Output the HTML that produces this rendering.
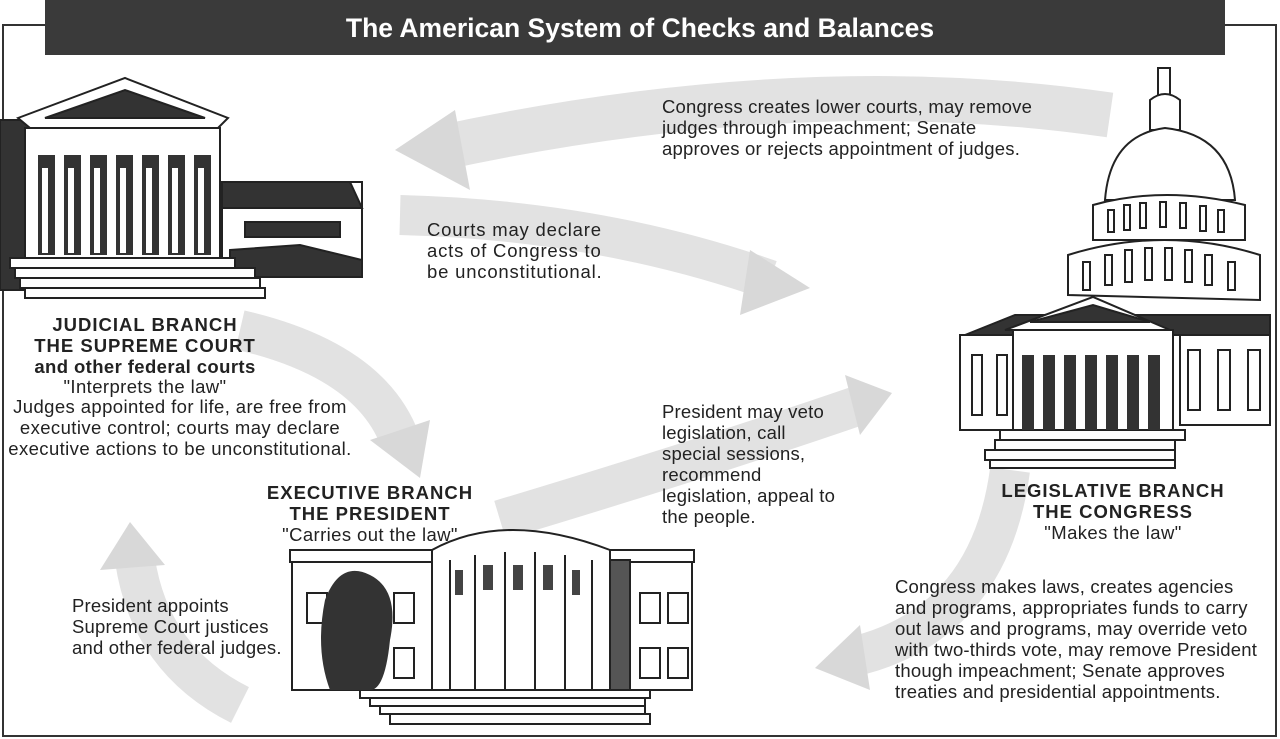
<!DOCTYPE html>
<html><head><meta charset="utf-8"><style>
html,body{margin:0;padding:0;background:#fff;}
svg{display:block;}
text{font-family:"Liberation Sans",Arial,sans-serif;fill:#222;}
</style></head><body>
<svg width="1280" height="739" viewBox="0 0 1280 739" xmlns="http://www.w3.org/2000/svg">
<rect width="1280" height="739" fill="#fff"/>
<path d="M45 25 H3 V736 H1276 V25 H1225" fill="none" stroke="#333" stroke-width="2"/>
<rect x="45" y="0" width="1180" height="55" fill="#3a3a3a"/>
<text x="640" y="37" font-size="26.5" font-weight="bold" text-anchor="middle" style="fill:#fff">The American System of Checks and Balances</text>

<g fill="none" stroke="#e2e2e2" stroke-linecap="butt">
 <path d="M1110 115 Q800 70 440 148" stroke-width="45"/>
 <path d="M400 215 Q600 220 770 280" stroke-width="40"/>
 <path d="M240 330 Q370 360 400 440" stroke-width="40"/>
 <path d="M500 520 Q700 460 860 405" stroke-width="40"/>
 <path d="M1010 470 Q990 620 860 655" stroke-width="40"/>
 <path d="M240 705 Q150 660 135 560" stroke-width="40"/>
</g>
<g fill="#d8d8d8">
 <polygon points="395,150 455,110 470,190"/>
 <polygon points="810,288 750,250 740,315"/>
 <polygon points="420,478 370,440 430,420"/>
 <polygon points="892,393 845,375 860,435"/>
 <polygon points="815,668 860,625 870,690"/>
 <polygon points="130,522 100,570 165,565"/>
</g>

<g stroke="#222" stroke-width="2">
 <rect x="222" y="182" width="140" height="95" fill="#fff"/>
 <polygon points="222,182 350,182 362,208 222,208" fill="#333"/>
 <rect x="245" y="222" width="95" height="15" fill="#333"/>
 <path d="M230 250 L300 245 L362 260 V277 H230Z" fill="#333"/>
 <rect x="0" y="120" width="30" height="170" fill="#333"/>
 <polygon points="18,118 125,78 228,118 218,128 30,128" fill="#fff"/>
 <polygon points="45,118 125,90 205,118" fill="#333"/>
 <rect x="25" y="128" width="195" height="130" fill="#fff"/>
 <rect x="10" y="258" width="225" height="10" fill="#fff"/>
 <rect x="15" y="268" width="240" height="10" fill="#fff"/>
 <rect x="20" y="278" width="240" height="10" fill="#fff"/>
 <rect x="25" y="288" width="240" height="10" fill="#fff"/>
</g>
<g fill="#333">
 <rect x="38" y="155" width="17" height="100"/><rect x="64" y="155" width="17" height="100"/><rect x="90" y="155" width="17" height="100"/><rect x="116" y="155" width="17" height="100"/><rect x="142" y="155" width="17" height="100"/><rect x="168" y="155" width="17" height="100"/><rect x="194" y="155" width="17" height="100"/>
</g>
<g fill="#fff"><rect x="42" y="168" width="6" height="85"/><rect x="68" y="168" width="6" height="85"/><rect x="94" y="168" width="6" height="85"/><rect x="120" y="168" width="6" height="85"/><rect x="146" y="168" width="6" height="85"/><rect x="172" y="168" width="6" height="85"/><rect x="198" y="168" width="6" height="85"/></g>

<g stroke="#222" stroke-width="2" fill="#fff">
 <rect x="1158" y="68" width="12" height="30"/>
 <path d="M1150 130 V100 Q1165 88 1180 100 V130Z"/>
 <path d="M1105 200 Q1110 135 1165 128 Q1230 135 1235 200Z"/>
 <path d="M1093 240 V205 Q1165 185 1245 205 V240Z"/>
 <path d="M1068 295 V255 Q1165 225 1260 255 V300Z"/>
 <polygon points="965,335 1015,315 1270,315 1270,335" fill="#333"/>
 <rect x="960" y="335" width="60" height="95"/>
 <rect x="1180" y="335" width="90" height="90"/>
 <polygon points="1005,330 1093,297 1170,330" fill="#fff"/>
 <polygon points="1030,322 1093,305 1150,322" fill="#333"/>
 <rect x="1013" y="330" width="160" height="100"/>
 <rect x="1000" y="430" width="185" height="10"/>
 <rect x="995" y="440" width="180" height="10"/>
 <rect x="985" y="450" width="190" height="10"/>
 <rect x="990" y="460" width="185" height="8"/>
</g>
<g fill="none" stroke="#222" stroke-width="2">
 <rect x="1108" y="210" width="6" height="22"/><rect x="1124" y="205" width="6" height="25"/><rect x="1140" y="203" width="6" height="25"/><rect x="1160" y="202" width="6" height="25"/><rect x="1180" y="203" width="6" height="25"/><rect x="1200" y="206" width="6" height="25"/><rect x="1218" y="210" width="6" height="22"/>
 <rect x="1083" y="262" width="7" height="28"/><rect x="1105" y="255" width="7" height="30"/><rect x="1125" y="250" width="7" height="32"/><rect x="1145" y="248" width="7" height="32"/><rect x="1165" y="248" width="7" height="32"/><rect x="1185" y="250" width="7" height="32"/><rect x="1205" y="255" width="7" height="30"/><rect x="1228" y="262" width="7" height="28"/>
 <rect x="972" y="355" width="10" height="60"/><rect x="997" y="355" width="10" height="60"/>
 <rect x="1188" y="350" width="12" height="60"/><rect x="1218" y="350" width="12" height="60"/><rect x="1248" y="350" width="12" height="60"/>
</g>
<g fill="#333"><rect x="1022" y="355" width="12" height="75"/><rect x="1043" y="355" width="12" height="75"/><rect x="1064" y="355" width="12" height="75"/><rect x="1085" y="355" width="12" height="75"/><rect x="1106" y="355" width="12" height="75"/><rect x="1127" y="355" width="12" height="75"/><rect x="1148" y="355" width="12" height="75"/></g>

<g stroke="#222" stroke-width="2" fill="#fff">
 <rect x="292" y="560" width="400" height="130"/>
 <rect x="290" y="550" width="404" height="12"/>
 <path d="M432 690 V550 Q505 510 610 550 V690Z"/>
 <rect x="610" y="560" width="20" height="130" fill="#555"/>
 <rect x="360" y="690" width="290" height="8"/>
 <rect x="370" y="698" width="275" height="8"/>
 <rect x="380" y="706" width="265" height="8"/>
 <rect x="390" y="714" width="260" height="10"/>
</g>
<g fill="none" stroke="#222" stroke-width="2">
 <rect x="307" y="593" width="20" height="30"/><rect x="394" y="593" width="20" height="30"/><rect x="640" y="593" width="20" height="30"/><rect x="668" y="593" width="20" height="30"/>
 <rect x="394" y="648" width="20" height="30"/><rect x="640" y="648" width="20" height="30"/><rect x="668" y="648" width="20" height="30"/>
 <line x1="450" y1="560" x2="450" y2="690"/><line x1="475" y1="555" x2="475" y2="690"/><line x1="505" y1="552" x2="505" y2="690"/><line x1="535" y1="552" x2="535" y2="690"/><line x1="565" y1="555" x2="565" y2="690"/><line x1="592" y1="560" x2="592" y2="690"/>
</g>
<g fill="#444"><rect x="483" y="565" width="10" height="25"/><rect x="513" y="565" width="10" height="25"/><rect x="543" y="565" width="10" height="25"/><rect x="455" y="570" width="8" height="25"/><rect x="572" y="570" width="8" height="25"/></g>
<path d="M330 690 Q315 650 325 600 Q340 560 370 575 Q400 590 390 640 Q385 690 370 690Z" fill="#333"/>

<g font-size="18.5" letter-spacing="0.2">
 <text x="662" y="113">Congress creates lower courts, may remove</text>
 <text x="662" y="134">judges through impeachment; Senate</text>
 <text x="662" y="155">approves or rejects appointment of judges.</text>
 <text x="427" y="236" letter-spacing="0.8">Courts may declare</text>
 <text x="427" y="257" letter-spacing="0.8">acts of Congress to</text>
 <text x="427" y="278" letter-spacing="0.8">be unconstitutional.</text>
 <text x="662" y="418">President may veto</text>
 <text x="662" y="439">legislation, call</text>
 <text x="662" y="460">special sessions,</text>
 <text x="662" y="481">recommend</text>
 <text x="662" y="502">legislation, appeal to</text>
 <text x="662" y="523">the people.</text>
 <text x="895" y="593">Congress makes laws, creates agencies</text>
 <text x="895" y="614">and programs, appropriates funds to carry</text>
 <text x="895" y="635">out laws and programs, may override veto</text>
 <text x="895" y="656">with two-thirds vote, may remove President</text>
 <text x="895" y="677">though impeachment; Senate approves</text>
 <text x="895" y="698">treaties and presidential appointments.</text>
 <text x="72" y="612">President appoints</text>
 <text x="72" y="633">Supreme Court justices</text>
 <text x="72" y="654">and other federal judges.</text>
</g>
<g font-size="18.5" text-anchor="middle" letter-spacing="0.4">
 <text x="145" y="331" font-weight="bold" letter-spacing="1">JUDICIAL BRANCH</text>
 <text x="145" y="352" font-weight="bold" letter-spacing="1">THE SUPREME COURT</text>
 <text x="145" y="373" font-weight="bold">and other federal courts</text>
 <text x="145" y="393">"Interprets the law"</text>
 <text x="180" y="413">Judges appointed for life, are free from</text>
 <text x="180" y="434">executive control; courts may declare</text>
 <text x="180" y="455">executive actions to be unconstitutional.</text>
 <text x="370" y="499" font-weight="bold" letter-spacing="1">EXECUTIVE BRANCH</text>
 <text x="370" y="520" font-weight="bold" letter-spacing="1">THE PRESIDENT</text>
 <text x="370" y="541">"Carries out the law"</text>
 <text x="1113" y="497" font-weight="bold" letter-spacing="1">LEGISLATIVE BRANCH</text>
 <text x="1113" y="518" font-weight="bold" letter-spacing="1">THE CONGRESS</text>
 <text x="1113" y="539">"Makes the law"</text>
</g>
</svg>
</body></html>
